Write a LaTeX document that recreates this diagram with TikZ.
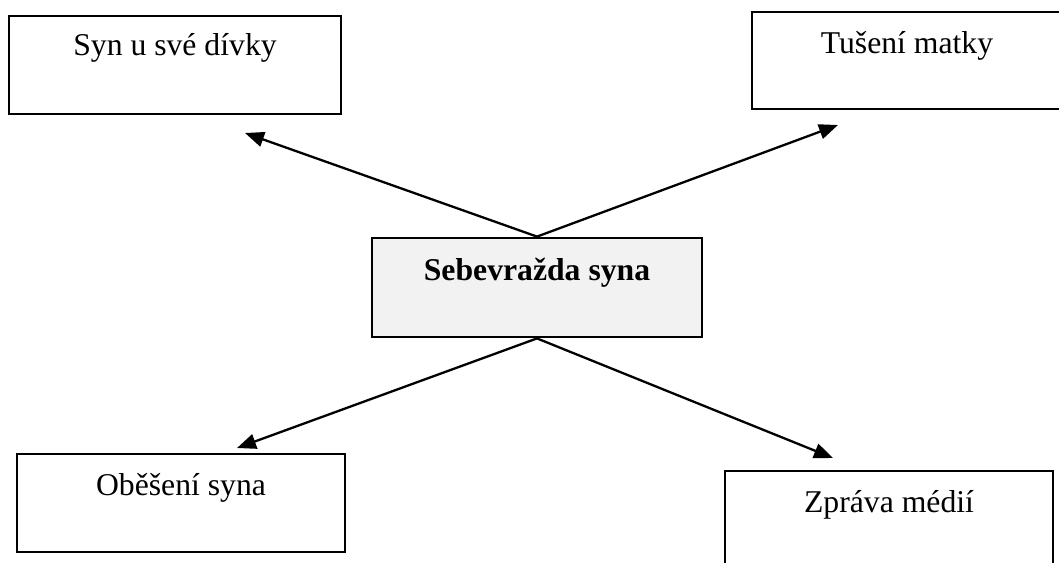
\documentclass[tikz,border=0pt]{standalone}
\usepackage{fontspec}
\setmainfont{Liberation Serif}
\usetikzlibrary{arrows.meta}
\definecolor{boxgray}{HTML}{F2F2F2}
\tikzset{
  box/.style={draw=black, line width=2.8pt, rectangle, inner xsep=0pt, inner ysep=0pt,
    font=\fontsize{31.7}{38}\selectfont, anchor=center},
  conn/.style={line width=2.3pt, -{Triangle[length=19pt,width=15pt]}}
}
\begin{document}
\begin{tikzpicture}[x=1pt,y=-1pt]
\useasboundingbox (0,0) rectangle (1059,562);
\clip (0,0) rectangle (1059,562);
\node[box, minimum width=332pt, text height=39pt, text depth=59pt] (syn) at (175,65) {Syn u své dívky};
\node[box, minimum width=310pt, text height=41pt, text depth=56pt] (tuseni) at (907,60.5) {Tušení matky};
\node[box, fill=boxgray, minimum width=330pt, text height=42pt, text depth=57pt] (sebe) at (537,287.5) {\textbf{Sebevražda syna}};
\node[box, minimum width=328pt, text height=41pt, text depth=57pt] (obeseni) at (181,503) {Oběšení syna};
\node[box, minimum width=328pt, text height=41pt, text depth=58pt] (zprava) at (889,520.5) {Zpráva médií};
\coordinate (t1) at (245,133);
\coordinate (t2) at (838,125);
\coordinate (t3) at (237,448);
\coordinate (t4) at (833,458);
\draw[conn] (sebe.north) -- (t1);
\draw[conn] (sebe.north) -- (t2);
\draw[conn] (sebe.south) -- (t3);
\draw[conn] (sebe.south) -- (t4);
\end{tikzpicture}
\end{document}
